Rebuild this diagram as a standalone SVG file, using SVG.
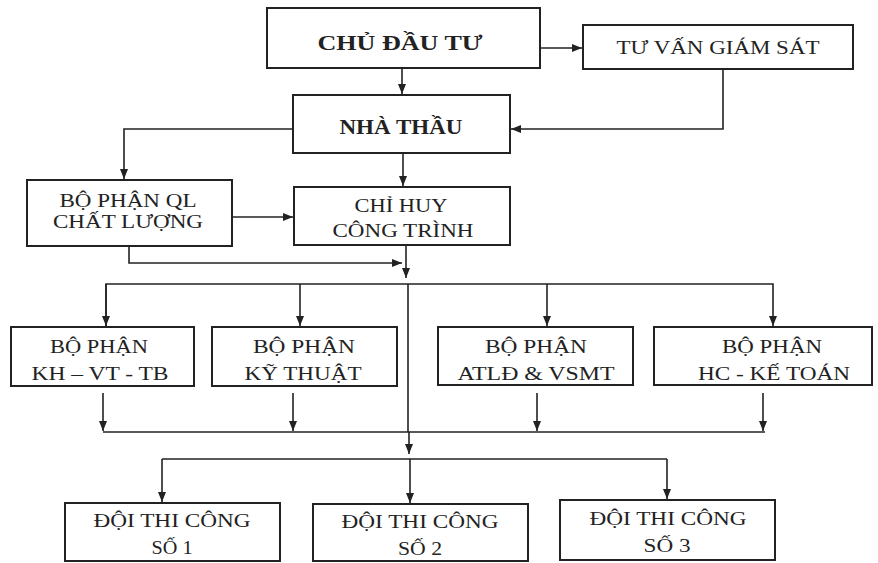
<svg xmlns="http://www.w3.org/2000/svg" width="878" height="563" viewBox="0 0 878 563">
<style>
.box{fill:#fff;stroke:#222;stroke-width:2}
.t{font-family:"Liberation Serif","Times New Roman",serif;font-size:18px;fill:#222;text-anchor:middle}
.b{font-weight:bold;font-size:20px}
.c{fill:none;stroke:#222;stroke-width:1.6}
</style>
<defs>
<marker id="ah" markerUnits="userSpaceOnUse" markerWidth="10" markerHeight="10" viewBox="0 0 10 10" refX="10" refY="5" orient="auto">
<path d="M0,1 L10,5 L0,9 Z" fill="#222"/>
</marker>
</defs>
<g id="connectors">
<path class="c" d="M540,48 H582" marker-end="url(#ah)"/>
<path class="c" d="M402,68 V94" marker-end="url(#ah)"/>
<path class="c" d="M723,69 V129 H511" marker-end="url(#ah)"/>
<path class="c" d="M293,129 H124 V179" marker-end="url(#ah)"/>
<path class="c" d="M403,153 V186" marker-end="url(#ah)"/>
<path class="c" d="M232,217 H293" marker-end="url(#ah)"/>
<path class="c" d="M129,246 V263 H402" marker-end="url(#ah)"/>
<path class="c" d="M406,245 V278" marker-end="url(#ah)"/>
<path class="c" d="M106,326 V284 H773 V326" marker-end="url(#ah)"/>
<path class="c" d="M106,284 V326" marker-end="url(#ah)"/>
<path class="c" d="M300,284 V326" marker-end="url(#ah)"/>
<path class="c" d="M547,284 V326" marker-end="url(#ah)"/>
<path class="c" d="M408,284 V432"/>
<path class="c" d="M103,393 V431" marker-end="url(#ah)"/>
<path class="c" d="M293,393 V431" marker-end="url(#ah)"/>
<path class="c" d="M537,393 V431" marker-end="url(#ah)"/>
<path class="c" d="M763,393 V431" marker-end="url(#ah)"/>
<path class="c" d="M103,432 H765"/>
<path class="c" d="M409,432 V454" marker-end="url(#ah)"/>
<path class="c" d="M162,459 H667"/>
<path class="c" d="M162,459 V502" marker-end="url(#ah)"/>
<path class="c" d="M410,459 V503" marker-end="url(#ah)"/>
<path class="c" d="M667,459 V499" marker-end="url(#ah)"/>
</g>
<g id="chu-dau-tu">
<rect class="box" x="267" y="8" width="273" height="60"/>
<text class="t b" x="400" y="50" textLength="165" lengthAdjust="spacingAndGlyphs">CHỦ ĐẦU TƯ</text>
</g>
<g id="tu-van-giam-sat">
<rect class="box" x="583" y="25" width="270" height="44"/>
<text class="t" x="718" y="54" textLength="203" lengthAdjust="spacingAndGlyphs">TƯ VẤN GIÁM SÁT</text>
</g>
<g id="nha-thau">
<rect class="box" x="293" y="95" width="217" height="58"/>
<text class="t b" x="401" y="134" textLength="123" lengthAdjust="spacingAndGlyphs">NHÀ THẦU</text>
</g>
<g id="bo-phan-ql">
<rect class="box" x="27" y="180" width="205" height="66"/>
<text class="t" x="128" y="207" textLength="137" lengthAdjust="spacingAndGlyphs">BỘ PHẬN QL</text>
<text class="t" x="128" y="228" textLength="150" lengthAdjust="spacingAndGlyphs">CHẤT LƯỢNG</text>
</g>
<g id="chi-huy">
<rect class="box" x="294" y="187" width="216" height="58"/>
<text class="t" x="401" y="212" textLength="93" lengthAdjust="spacingAndGlyphs">CHỈ HUY</text>
<text class="t" x="403" y="237" textLength="141" lengthAdjust="spacingAndGlyphs">CÔNG TRÌNH</text>
</g>
<g id="kh-vt-tb">
<rect class="box" x="11" y="327" width="183" height="59"/>
<text class="t" x="99" y="353" textLength="98" lengthAdjust="spacingAndGlyphs">BỘ PHẬN</text>
<text class="t" x="100" y="380" textLength="137" lengthAdjust="spacingAndGlyphs">KH – VT - TB</text>
</g>
<g id="ky-thuat">
<rect class="box" x="212" y="327" width="185" height="59"/>
<text class="t" x="304" y="353" textLength="102" lengthAdjust="spacingAndGlyphs">BỘ PHẬN</text>
<text class="t" x="303" y="380" textLength="117" lengthAdjust="spacingAndGlyphs">KỸ THUẬT</text>
</g>
<g id="atld-vsmt">
<rect class="box" x="438" y="327" width="195" height="58"/>
<text class="t" x="536" y="353" textLength="102" lengthAdjust="spacingAndGlyphs">BỘ PHẬN</text>
<text class="t" x="536" y="380" textLength="157" lengthAdjust="spacingAndGlyphs">ATLĐ &amp; VSMT</text>
</g>
<g id="hc-ke-toan">
<rect class="box" x="654" y="327" width="218" height="58"/>
<text class="t" x="772" y="353" textLength="100" lengthAdjust="spacingAndGlyphs">BỘ PHẬN</text>
<text class="t" x="774" y="380" textLength="152" lengthAdjust="spacingAndGlyphs">HC - KẾ TOÁN</text>
</g>
<g id="doi-1">
<rect class="box" x="65" y="503" width="215" height="58"/>
<text class="t" x="172" y="527" textLength="157" lengthAdjust="spacingAndGlyphs">ĐỘI THI CÔNG</text>
<text class="t" x="172" y="554" textLength="41" lengthAdjust="spacingAndGlyphs">SỐ 1</text>
</g>
<g id="doi-2">
<rect class="box" x="313" y="504" width="215" height="57"/>
<text class="t" x="420" y="528" textLength="157" lengthAdjust="spacingAndGlyphs">ĐỘI THI CÔNG</text>
<text class="t" x="420" y="555" textLength="44" lengthAdjust="spacingAndGlyphs">SỐ 2</text>
</g>
<g id="doi-3">
<rect class="box" x="560" y="500" width="215" height="60"/>
<text class="t" x="668" y="525" textLength="157" lengthAdjust="spacingAndGlyphs">ĐỘI THI CÔNG</text>
<text class="t" x="667" y="552" textLength="47" lengthAdjust="spacingAndGlyphs">SỐ 3</text>
</g>
</svg>
